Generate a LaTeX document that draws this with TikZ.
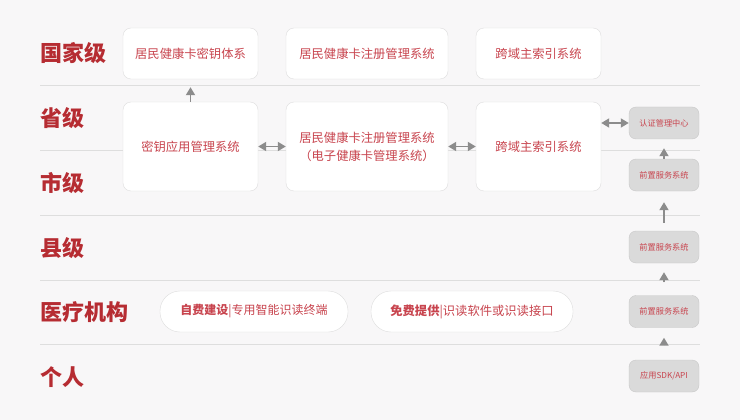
\documentclass[tikz,border=0pt]{standalone}
\usepackage{fontspec}
\setmainfont{Noto Sans CJK SC}
\usetikzlibrary{arrows.meta}

\definecolor{bgc}{RGB}{248,247,248}
\definecolor{lvlred}{RGB}{182,44,50}
\definecolor{txtred}{RGB}{200,68,78}
\definecolor{rulegray}{RGB}{222,222,222}
\definecolor{arrgray}{RGB}{140,140,140}
\definecolor{frontfill}{RGB}{218,218,218}
\definecolor{frontline}{RGB}{200,200,200}

\begin{document}
\begin{tikzpicture}[x=1pt, y=-1pt,
		lvl/.style={anchor=west, inner sep=0pt, text=lvlred, font=\fontsize{22}{22}\selectfont\bfseries},
		sysbox/.style={draw=rulegray, fill=white, rounded corners=8pt, inner sep=0pt, align=center, text=txtred, font=\fontsize{12.3}{18}\selectfont},
		pill/.style={draw=rulegray, fill=white, rounded corners=20pt, inner sep=0pt, minimum height=41pt, text=txtred, font=\fontsize{12}{12}\selectfont},
		frontbox/.style={draw=frontline, fill=frontfill, rounded corners=7pt, inner sep=0pt, minimum width=70pt, minimum height=32pt, text=txtred, font=\fontsize{8.2}{8}\selectfont},
		arr/.style={-{Triangle[length=8pt,width=9pt]}, draw=arrgray, fill=arrgray, line width=1.8pt},
		darr/.style={{Triangle[length=8pt,width=9pt]}-{Triangle[length=8pt,width=9pt]}, draw=arrgray, fill=arrgray, line width=1.8pt}
	]
		% background
		\fill[bgc] (0,0) rectangle (740,420);
		\foreach \y in {85,150,215,280,344}{
			\draw[rulegray, line width=0.9pt] (40,\y) -- (700,\y);
		}
		% levels
		\node[lvl] (gj) at (40,53) {国家级};
		\node[lvl] (sj) at (40,118) {省级};
		\node[lvl] (cj) at (40,183) {市级};
		\node[lvl] (xj) at (40,248) {县级};
		\node[lvl] (yl) at (40,312) {医疗机构};
		\node[lvl] (gr) at (40,377) {个人};
		% national
		\node[sysbox, minimum width=135pt, minimum height=51pt] (keysys) at (190.5,53.5) {居民健康卡密钥体系};
		\node[sysbox, minimum width=162pt, minimum height=51pt] (regnat) at (367,53.5) {居民健康卡注册管理系统};
		\node[sysbox, minimum width=125pt, minimum height=51pt] (idxnat) at (538.5,53.5) {跨域主索引系统};
		% province / city
		\node[sysbox, minimum width=135pt, minimum height=89pt] (keyapp) at (190.5,146.5) {密钥应用管理系统};
		\node[sysbox, minimum width=162pt, minimum height=89pt] (regprov) at (367,146.5) {居民健康卡注册管理系统\\（电子健康卡管理系统）};
		\node[sysbox, minimum width=125pt, minimum height=89pt] (idxprov) at (538.5,146.5) {跨域主索引系统};
		% right column
		\node[frontbox] (auth) at (664,123) {认证管理中心};
		\node[frontbox] (front1) at (664,175) {前置服务系统};
		\node[frontbox] (front2) at (664,247) {前置服务系统};
		\node[frontbox] (front3) at (664,311.5) {前置服务系统};
		\node[frontbox] (sdk) at (664,376) {应用SDK/API};
		% hospitals
		\node[pill, minimum width=188pt] (selfbuilt) at (254,311.5) {\textbf{自费建设}|专用智能识读终端};
		\node[pill, minimum width=202pt, font=\fontsize{12.3}{12}\selectfont] (freesw) at (472,311.5) {\textbf{免费提供}|识读软件或识读接口};
		% arrows
		\draw[arr, shorten >=8pt] (keyapp.north) -- (keysys.south);
		\draw[darr] (keyapp.east) -- (regprov.west);
		\draw[darr] (regprov.east) -- (idxprov.west);
		\draw[darr] (idxprov.east |- auth.west) -- (auth.west);
		\draw[arr, shorten >=9pt] (front1.north) -- (auth.south);
		\draw[arr, shorten <=8pt, shorten >=11pt] (front2.north) -- (front1.south);
		\draw[arr, shorten <=13pt, shorten >=9pt] (front3.north) -- (front2.south);
		\draw[arr, shorten <=17pt, shorten >=10pt] (sdk.north) -- (front3.south);
	\end{tikzpicture}
\end{document}
